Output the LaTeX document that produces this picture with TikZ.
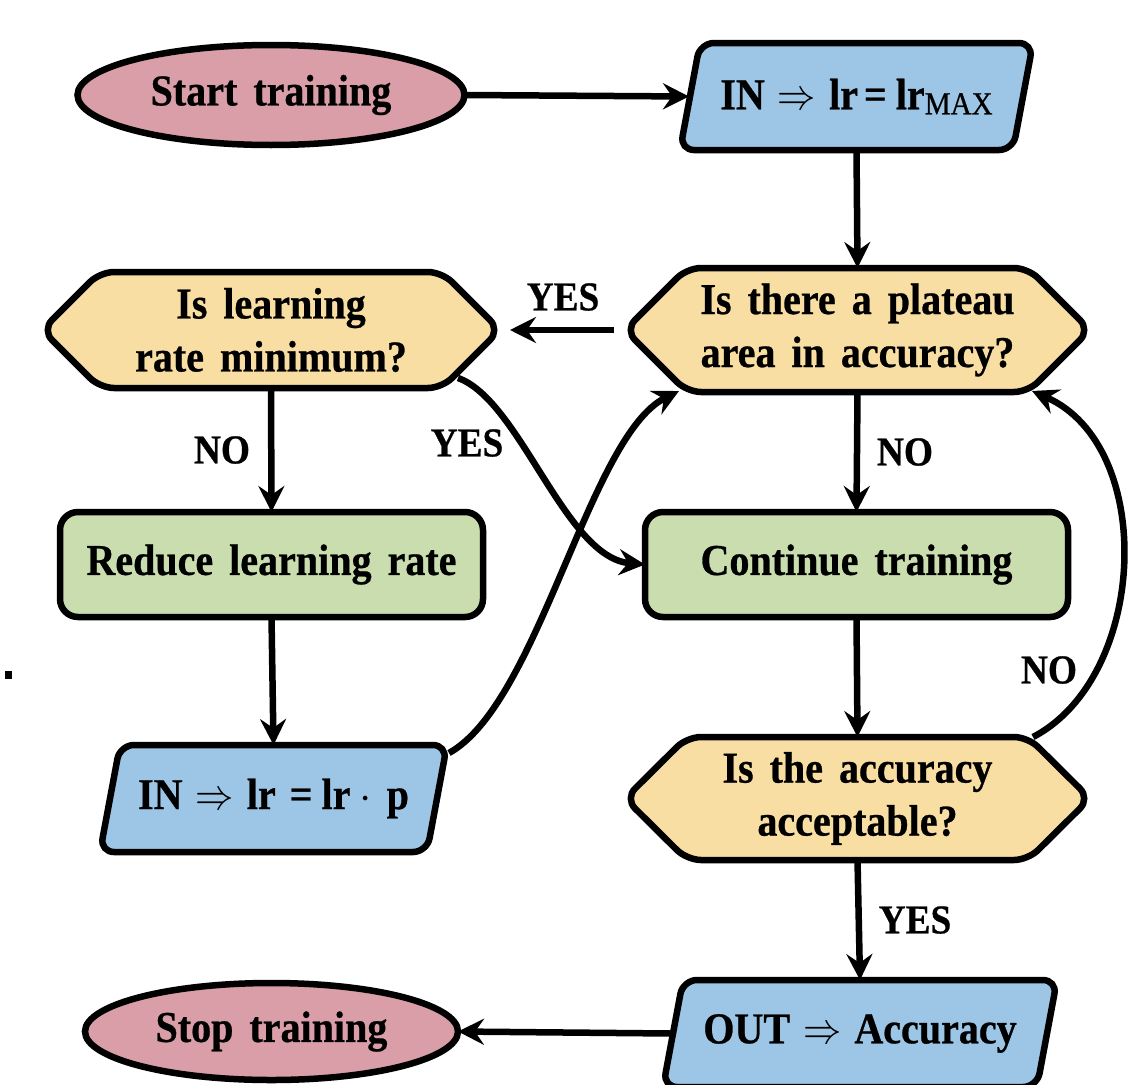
\RequirePackage{fix-cm}
\documentclass[tikz,border=0pt]{standalone}
\usepackage{fontspec}
\usepackage{graphicx}
\setmainfont{Liberation Serif}[FakeStretch=0.91, WordSpace=1.6, FakeBold=0.6]
\usetikzlibrary{arrows.meta,shapes.geometric,backgrounds,calc}
\definecolor{cpink}{RGB}{217,158,168}
\definecolor{cblue}{RGB}{157,198,230}
\definecolor{cyellow}{RGB}{248,222,162}
\definecolor{cgreen}{RGB}{202,221,174}
\newcommand\mainfnt{\bfseries\fontsize{44}{53}\selectfont}
\newcommand\lblfnt{\bfseries\fontsize{41}{48}\selectfont}
\newcommand\darr{\scalebox{0.87}[1]{$\Rightarrow$}}
\newcommand\hexa[3]{\path[shapeline, fill=#3] (#1.north) -- ([xshift=-#2pt]#1.north east) -- (#1.east) -- ([xshift=-#2pt]#1.south east) -- ([xshift=#2pt]#1.south west) -- (#1.west) -- ([xshift=#2pt]#1.north west) -- cycle;}
\newcommand\para[3]{\path[shapeline, fill=#3] (#1.north) -- (#1.north east) -- ([xshift=-#2pt]#1.south east) -- (#1.south west) -- ([xshift=#2pt]#1.north west) -- cycle;}
\tikzset{
  box/.style={inner sep=0pt, outer sep=0pt, align=center, font=\mainfnt},
  lbl/.style={inner sep=0pt, font=\lblfnt},
  arr/.style={line width=6.5pt, -{Stealth[length=26pt,width=26pt,inset=9pt]}},
  shapeline/.style={line width=6.5pt, draw=black, rounded corners=14pt},
  ovalbox/.style={box, ellipse, draw, line width=6.5pt, fill=cpink},
  procbox/.style={box, draw, line width=6.5pt, fill=cgreen, rounded corners=18pt, minimum width=423pt, minimum height=105pt},
}
\begin{document}
\begin{tikzpicture}[x=1pt,y=-1pt]
\useasboundingbox (0,0) rectangle (1140,1084);

% nodes
\node[ovalbox, minimum width=387pt, minimum height=100pt] (start) at (271,95) {Start training};
\node[box, minimum width=353pt, minimum height=107pt] (in1) at (856.5,96.5) {IN\hspace{13pt}\darr\hspace{13pt}lr\hspace{6pt}=\hspace{9pt}lr\raisebox{-5pt}{\fontsize{32}{32}\selectfont\mdseries MAX}};
\node[box, minimum width=465pt, minimum height=124pt] (plat) at (857.5,330) {Is there a plateau\\area in accuracy?};
\node[box, minimum width=458pt, minimum height=116pt] (lrmin) at (271,330) {Is learning\\rate minimum?};
\node[procbox] (reduce) at (271.5,564.5) {Reduce learning rate};
\node[procbox] (cont) at (856.5,564.5) {Continue training};
\node[box, minimum width=347pt, minimum height=107pt] (in2) at (273.5,798.5) {IN\hspace{13pt}\darr\hspace{13pt}lr\hspace{14pt}=\hspace{9pt}lr\hspace{9pt}$\cdot$\hspace{15pt}p};
\node[box, minimum width=465pt, minimum height=123pt] (acc) at (857.5,798.5) {Is the accuracy\\acceptable?};
\node[box, minimum width=394pt, minimum height=107pt] (out) at (860,1033.5) {OUT\hspace{13pt}\darr\hspace{13pt}Accuracy};
\node[ovalbox, minimum width=373pt, minimum height=97pt] (stop) at (271.5,1031.5) {Stop training};

\begin{scope}[on background layer]
  \para{in1}{20}{cblue}
  \para{in2}{20}{cblue}
  \para{out}{20}{cblue}
  \hexa{plat}{62}{cyellow}
  \hexa{lrmin}{58}{cyellow}
  \hexa{acc}{62}{cyellow}
\end{scope}

% connectors
\draw[arr] (start.east) -- ([xshift=9pt]in1.west);
\draw[arr] (in1.south) -- (plat.north);
\draw[arr] ([xshift=-11pt]plat.west) -- ([xshift=10pt]lrmin.east);
\draw[arr] (lrmin.south) -- (reduce.north);
\draw[arr] (reduce.south) -- (in2.north);
\draw[arr] (plat.south) -- (cont.north);
\draw[arr] (cont.south) -- (acc.north);
\draw[arr] (acc.south) -- (out.north);
\draw[arr] ([xshift=8pt]out.west) -- (stop.east);
\draw[arr] ($(lrmin.south east)+(-42,-10)$) .. controls +(62,22) and +(-80,-7) .. (cont.west);
\draw[arr] ($(in2.north east)+(2,8)$) .. controls +(90,-50) and +(-90,45) .. ($(plat.south west)+(54,-1)$);
\draw[arr] ($(acc.north east)+(-57,0)$) .. controls +(115,-60) and +(125,55) .. ($(plat.south east)+(-58,-1)$);

% labels
\node[lbl] (l1) at (563,297) {YES};
\node[lbl] (l2) at (222,450) {NO};
\node[lbl] (l3) at (467,443) {YES};
\node[lbl] (l4) at (905,452) {NO};
\node[lbl] (l5) at (1049,670) {NO};
\node[lbl] (l6) at (915,920) {YES};

\fill (5,671) rectangle (12,679);
\end{tikzpicture}
\end{document}
